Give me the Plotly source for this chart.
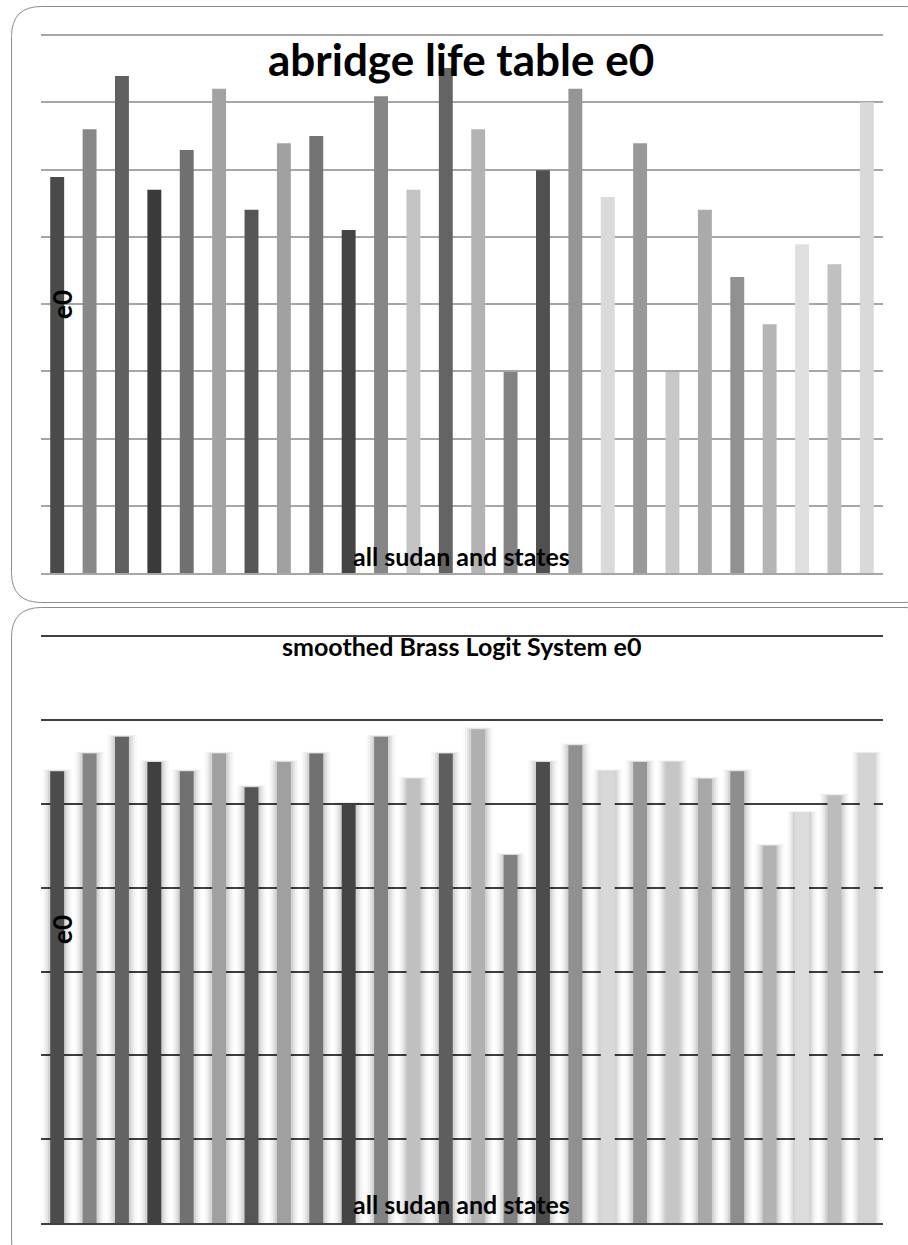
import plotly.graph_objects as go

W, H = 908, 1245

# ---- data ----
categories = [f"c{i}" for i in range(1, 27)]
abridge_e0 = [58.9, 66.0, 73.9, 57.0, 62.9, 72.0, 54.0, 63.9, 65.0, 51.0,
              70.9, 57.0, 75.1, 66.0, 29.9, 59.9, 72.0, 55.9, 63.9, 29.9,
              54.0, 44.0, 37.0, 48.9, 45.9, 70.0]
brass_e0 = [53.9, 56.0, 58.0, 55.0, 53.9, 56.0, 52.0, 55.0, 56.0, 50.0,
            58.0, 53.0, 56.0, 58.9, 43.9, 55.0, 57.0, 53.9, 55.0, 55.0,
            53.0, 53.9, 45.0, 48.9, 51.0, 56.0]
bar_colors = ["#4a4a4a", "#888888", "#606060", "#3a3a3a", "#707070", "#a2a2a2",
              "#555555", "#a0a0a0", "#747474", "#444444", "#868686", "#c3c3c3",
              "#646464", "#b3b3b3", "#828282", "#505050", "#959595", "#dadada",
              "#999999", "#c8c8c8", "#aaaaaa", "#919191", "#b5b5b5", "#e0e0e0",
              "#c0c0c0", "#d9d9d9"]
bottom_colors = ["#4c4c4c", "#858585", "#636363", "#404040", "#717171", "#a0a0a0",
                 "#555555", "#a0a0a0", "#717171", "#444444", "#828282", "#c0c0c0",
                 "#5e5e5e", "#b0b0b0", "#808080", "#4c4c4c", "#909090", "#d8d8d8",
                 "#969696", "#c6c6c6", "#a8a8a8", "#8e8e8e", "#b2b2b2", "#dcdcdc",
                 "#bcbcbc", "#d4d4d4"]

FONT = "Lato"

def px_x(x):
    return x / W

def px_y(y):
    return 1 - y / H

fig = go.Figure()

# top chart
fig.add_trace(go.Bar(x=categories, y=abridge_e0, marker=dict(color=bar_colors, line=dict(width=0)),
                     width=0.43, xaxis="x", yaxis="y", showlegend=False, hoverinfo="y"))

# bottom chart: soft shadows then bars
for k, (extra_w, alpha) in enumerate([(0.50, 0.02), (0.38, 0.035), (0.26, 0.05), (0.14, 0.07)]):
    fig.add_trace(go.Bar(x=categories, y=[v + 0.25 * (4 - k) / 4 for v in brass_e0],
                         marker=dict(color=f"rgba(0,0,0,{alpha})", line=dict(width=0)),
                         width=0.43 + extra_w, xaxis="x2", yaxis="y2", showlegend=False,
                         hoverinfo="skip"))
fig.add_trace(go.Bar(x=categories, y=brass_e0, marker=dict(color=bottom_colors, line=dict(width=0)),
                     width=0.43, xaxis="x2", yaxis="y2", showlegend=False, hoverinfo="y"))

fig.update_layout(
    width=W, height=H,
    margin=dict(l=0, r=0, t=0, b=0),
    paper_bgcolor="white", plot_bgcolor="rgba(0,0,0,0)",
    barmode="overlay",
    font=dict(family=FONT, color="black"),
    xaxis=dict(domain=[px_x(41), px_x(883)], showticklabels=False, ticks="",
               showgrid=False, showline=True, linecolor="#a6a6a6", linewidth=2,
               fixedrange=True, range=[-0.5, 25.5]),
    yaxis=dict(domain=[px_y(573), px_y(34)], range=[0, 80.15], dtick=10,
               showticklabels=False, ticks="", showgrid=True, gridcolor="#a6a6a6",
               gridwidth=1.5, zeroline=False, showline=False),
    xaxis2=dict(domain=[px_x(41), px_x(883)], showticklabels=False, ticks="",
                showgrid=False, showline=True, linecolor="#404040", linewidth=2,
                anchor="y2", range=[-0.5, 25.5]),
    yaxis2=dict(domain=[px_y(1223), px_y(635)], range=[0, 70.15], dtick=10,
                showticklabels=False, ticks="", showgrid=True, gridcolor="#404040",
                gridwidth=1.5, zeroline=False, showline=False, anchor="x2"),
)

def rounded_rect(x0, y0, x1, y1, r):
    def P(x, y):
        return f"{px_x(x):.5f},{px_y(y):.5f}"
    path = (f"M {P(x0 + r, y0)} L {P(x1 - r, y0)} Q {P(x1, y0)} {P(x1, y0 + r)} "
            f"L {P(x1, y1 - r)} Q {P(x1, y1)} {P(x1 - r, y1)} "
            f"L {P(x0 + r, y1)} Q {P(x0, y1)} {P(x0, y1 - r)} "
            f"L {P(x0, y0 + r)} Q {P(x0, y0)} {P(x0 + r, y0)} Z")
    return dict(type="path", path=path, xref="paper", yref="paper",
                line=dict(color="#8c8c8c", width=1), fillcolor="rgba(0,0,0,0)", layer="above")

fig.add_shape(rounded_rect(11.5, 6.5, 935, 602.5, 30))
fig.add_shape(rounded_rect(11.5, 607.5, 935, 1270, 30))

ann = [
    dict(text="<b>abridge life table e0</b>", x=px_x(461), y=px_y(59), size=44, angle=0),
    dict(text="<b>e0</b>", x=px_x(62), y=px_y(305), size=26, angle=-90),
    dict(text="<b>all sudan and states</b>", x=px_x(461), y=px_y(556), size=25, angle=0),
    dict(text="<b>smoothed Brass Logit System e0</b>", x=px_x(462), y=px_y(646), size=25, angle=0),
    dict(text="<b>e0</b>", x=px_x(62), y=px_y(930), size=26, angle=-90),
    dict(text="<b>all sudan and states</b>", x=px_x(461), y=px_y(1204), size=25, angle=0),
]
for a in ann:
    fig.add_annotation(text=a["text"], x=a["x"], y=a["y"], xref="paper", yref="paper",
                       showarrow=False, textangle=a["angle"], xanchor="center", yanchor="middle",
                       font=dict(family=FONT, size=a["size"], color="black"))

fig.write_html("out.html", config={"displayModeBar": False},
               post_script="document.body.style.margin='0';document.body.style.overflow='hidden';")
